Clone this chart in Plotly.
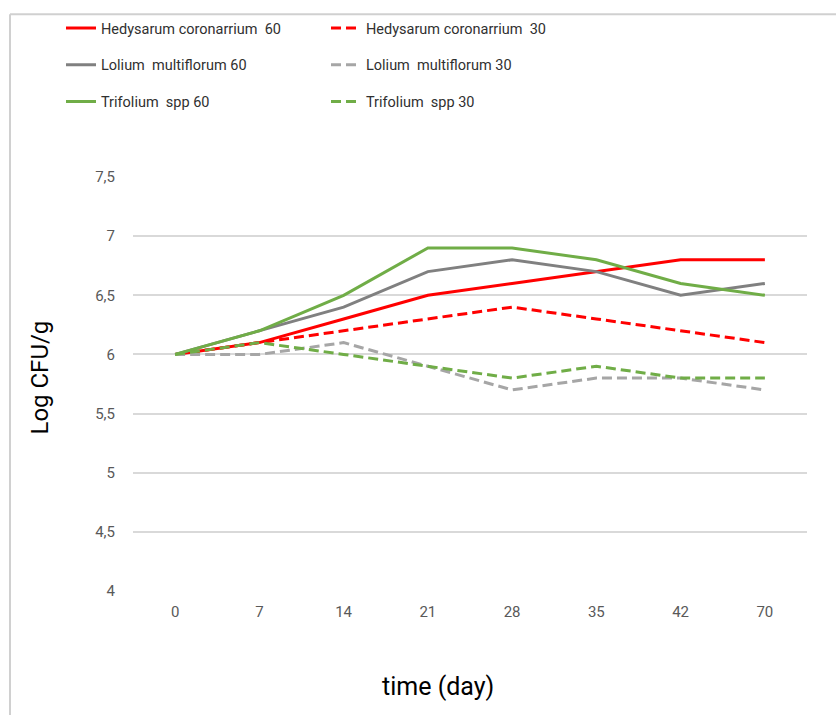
import plotly.graph_objects as go

days = ["0", "7", "14", "21", "28", "35", "42", "70"]
hedy60 = [6.0, 6.1, 6.3, 6.5, 6.6, 6.7, 6.8, 6.8]
hedy30 = [6.0, 6.1, 6.2, 6.3, 6.4, 6.3, 6.2, 6.1]
lol60 = [6.0, 6.2, 6.4, 6.7, 6.8, 6.7, 6.5, 6.6]
lol30 = [6.0, 6.0, 6.1, 5.9, 5.7, 5.8, 5.8, 5.7]
tri60 = [6.0, 6.2, 6.5, 6.9, 6.9, 6.8, 6.6, 6.5]
tri30 = [6.0, 6.1, 6.0, 5.9, 5.8, 5.9, 5.8, 5.8]
yticks = [4, 4.5, 5, 5.5, 6, 6.5, 7, 7.5]
ytick_labels = ["4", "4,5", "5", "5,5", "6", "6,5", "7", "7,5"]

FONT = "Roboto, sans-serif"

series = [
    ("Hedysarum coronarrium  60", hedy60, "#FF0000", "solid", "legend"),
    ("Hedysarum coronarrium  30", hedy30, "#FF0000", "10px,5px", "legend"),
    ("Lolium  multiflorum 60", lol60, "#808080", "solid", "legend2"),
    ("Lolium  multiflorum 30", lol30, "#A6A6A6", "10px,5px", "legend2"),
    ("Trifolium  spp 60", tri60, "#70AD47", "solid", "legend3"),
    ("Trifolium  spp 30", tri30, "#70AD47", "10px,5px", "legend3"),
]

fig = go.Figure()
for name, vals, color, dash, leg in series:
    fig.add_trace(go.Scatter(
        x=days, y=vals, name=name, mode="lines",
        line=dict(color=color, width=3, dash=dash),
        legend=leg,
    ))

W, H = 836, 715
L, R, T, B = 133, 29, 174, 124
pw, ph = W - L - R, H - T - B

def px(x):
    return (x - L) / pw

def py(y):
    return (H - B - y) / ph

legend_common = dict(
    orientation="h", entrywidth=220, entrywidthmode="pixels",
    font=dict(family=FONT, size=14.5, color="#303030"),
    bgcolor="rgba(0,0,0,0)", xanchor="left", yanchor="middle",
    itemwidth=30,
)

fig.update_layout(
    width=W, height=H,
    margin=dict(l=L, r=R, t=T, b=B),
    plot_bgcolor="white", paper_bgcolor="white",
    font=dict(family=FONT),
    legend=dict(x=px(61), y=py(24), **legend_common),
    legend2=dict(x=px(61), y=py(61), **legend_common),
    legend3=dict(x=px(61), y=py(98), **legend_common),
    xaxis=dict(
        type="category", range=[-0.5, 7.5],
        showgrid=False, showline=False, ticks="", zeroline=False,
        ticklabelstandoff=10,
        tickfont=dict(family=FONT, size=15, color="#595959"),
    ),
    yaxis=dict(
        range=[4, 7.5], tickvals=yticks, ticktext=ytick_labels,
        showgrid=True, gridcolor="#D9D9D9", gridwidth=1.5,
        showline=False, zeroline=False, ticks="", ticklen=0,
        ticklabelstandoff=17,
        tickfont=dict(family=FONT, size=15, color="#595959"),
    ),
    annotations=[
        dict(text="time (day)", xref="paper", yref="paper", x=px(438), y=py(687),
             xanchor="center", yanchor="middle", showarrow=False,
             font=dict(family=FONT, size=25, color="black")),
        dict(text="Log CFU/g", xref="paper", yref="paper", x=px(40), y=py(376),
             xanchor="center", yanchor="middle", showarrow=False, textangle=-90,
             font=dict(family=FONT, size=24, color="black")),
    ],
    shapes=[
        dict(type="line", xref="paper", yref="paper", x0=px(10), x1=px(10), y0=py(10), y1=py(H + 5),
             line=dict(color="#D0D0D0", width=2)),
        dict(type="line", xref="paper", yref="paper", x0=px(10), x1=px(W + 5), y0=py(10), y1=py(10),
             line=dict(color="#D0D0D0", width=2)),
    ],
)

fig.write_html("out.html")
